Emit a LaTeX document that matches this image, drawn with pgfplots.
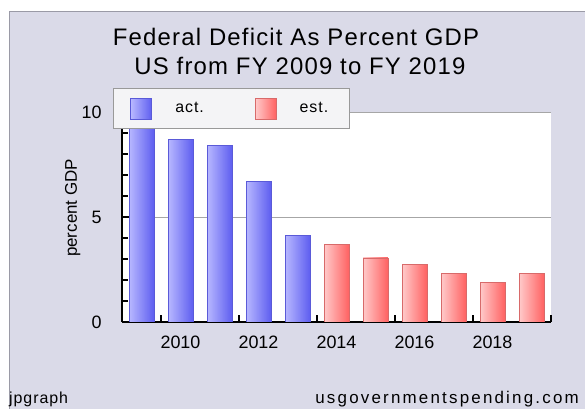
\documentclass[border=0pt]{standalone}
\usepackage{pgfplots}
\pgfplotsset{compat=1.18}
\usepackage{fontspec}
\setmainfont{Liberation Sans}
\definecolor{bg}{HTML}{DADAE8}
\definecolor{frame}{HTML}{9A9AA6}
\definecolor{blueL}{HTML}{B8B8FF}
\definecolor{blueR}{HTML}{5E5EF0}
\definecolor{blueB}{HTML}{5A5AD8}
\definecolor{redL}{HTML}{FFCACA}
\definecolor{redR}{HTML}{FF6262}
\definecolor{redB}{HTML}{D86A6A}
\definecolor{legfill}{HTML}{F4F4F6}
\pgfplotsset{
  actbar/.style={ybar, bar width=0.64, bar shift=0pt, draw=blueB, line width=0.8bp, left color=blueL, right color=blueR},
  estbar/.style={ybar, bar width=0.64, bar shift=0pt, draw=redB, line width=0.8bp, left color=redL, right color=redR},
}
\begin{document}
\begin{tikzpicture}
\path[use as bounding box] (0,0) rectangle (585bp,409bp);
\fill[white] (0,0) rectangle (585bp,409bp);
\fill[bg] (10bp,0) rectangle (585bp,398bp);
\draw[frame, line width=1.2bp] (9.6bp,0) -- (9.6bp,397.6bp) -- (585bp,397.6bp);
\node[font=\fontsize{24}{27}\selectfont\addfontfeature{LetterSpace=5}] at (296bp,372bp) {Federal Deficit As Percent GDP};
\node[font=\fontsize{24}{27}\selectfont\addfontfeature{LetterSpace=5}] at (300bp,343bp) {US from FY 2009 to FY 2019};
\node[font=\fontsize{16}{18}\selectfont\addfontfeature{LetterSpace=6}, anchor=base west, inner sep=0pt] at (9bp,6bp) {jpgraph};
\node[font=\fontsize{17}{19}\selectfont\addfontfeature{LetterSpace=13}, anchor=base east, inner sep=0pt] at (579bp,6bp) {usgovernmentspending.com};
\begin{axis}[
  at={(122bp,87bp)}, anchor=south west,
  scale only axis, width=429bp, height=210bp,
  xmin=2008.5, xmax=2019.5, ymin=0, ymax=10,
  axis lines*=left,
  axis line style={black, line width=1.3bp},
  axis background/.style={fill=white},
  tick align=inside,
  major tick length=7bp, minor tick length=6bp,
  tick style={black, line width=1.2bp},
  ytick={0,5,10}, minor ytick={1,2,3,4,6,7,8,9},
  ymajorgrids, major grid style={draw=gray!70, line width=0.9bp},
  xtick={2009.5,2011.5,2013.5,2015.5,2017.5,2019.5}, xticklabels={},
  extra x ticks={2010,2012,2014,2016,2018},
  extra x tick labels={2010,2012,2014,2016,2018},
  extra x tick style={major tick length=0pt, grid=none},
  /pgf/number format/assume math mode=true,
  ticklabel style={font=\fontsize{18}{20}\selectfont},
  yticklabel style={xshift=-17bp},
  xticklabel style={yshift=-10bp},
  ylabel={percent GDP},
  ylabel style={font=\fontsize{17}{19}\selectfont, at={(axis description cs:-0.115,0.543)}, anchor=center},
  legend columns=2,
  legend style={at={(rel axis cs:-0.021,1.116)}, anchor=north west,
    draw=gray!80, fill=legfill, line width=1bp,
    font=\fontsize{16}{18}\selectfont\addfontfeature{LetterSpace=6},
    inner xsep=17bp, inner ysep=9.5bp,
    /tikz/every even column/.append style={column sep=47bp},
    nodes={inner xsep=4bp, inner ysep=3bp}},
  legend image code/.code={\draw[#1, line width=0.8bp] (0bp,-10.5bp) rectangle (21bp,10.5bp); \draw[opacity=0] (0bp,0bp) -- (40bp,0bp);},
]
\addplot[actbar] coordinates {(2009,9.8)};
\addlegendentry{act.}
\addplot[estbar] coordinates {(2014,3.7)};
\addlegendentry{est.}
\addplot[actbar, forget plot] coordinates {(2010,8.7)};
\addplot[actbar, forget plot] coordinates {(2011,8.4)};
\addplot[actbar, forget plot] coordinates {(2012,6.7)};
\addplot[actbar, forget plot] coordinates {(2013,4.1)};
\addplot[estbar, forget plot] coordinates {(2015,3.05)};
\addplot[estbar, forget plot] coordinates {(2016,2.75)};
\addplot[estbar, forget plot] coordinates {(2017,2.3)};
\addplot[estbar, forget plot] coordinates {(2018,1.9)};
\addplot[estbar, forget plot] coordinates {(2019,2.3)};
\end{axis}
\end{tikzpicture}
\end{document}
